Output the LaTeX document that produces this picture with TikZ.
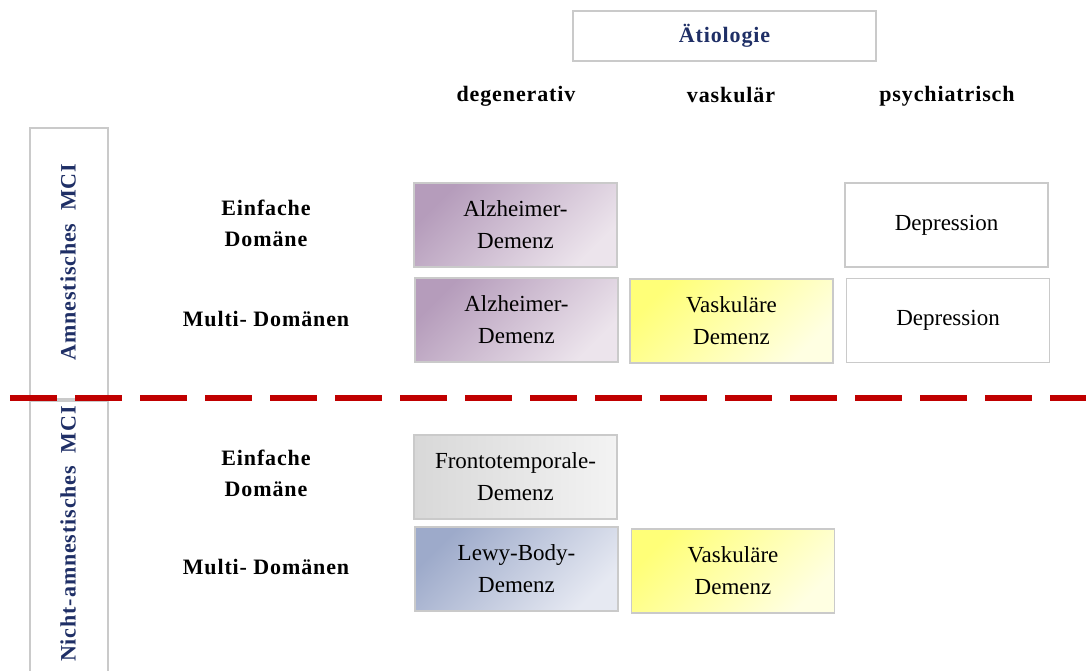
\documentclass[tikz,border=0pt]{standalone}
\usepackage{fontspec}
\setmainfont{Liberation Serif}
\definecolor{navy}{HTML}{1F2F66}
\definecolor{boxgray}{HTML}{CACACA}
\definecolor{dashred}{HTML}{C00000}
\definecolor{purpD}{HTML}{B59CBB}
\definecolor{purpL}{HTML}{ECE4EC}
\definecolor{yelD}{HTML}{FFFF78}
\definecolor{yelL}{HTML}{FFFFE2}
\definecolor{bluD}{HTML}{9DAACA}
\definecolor{bluL}{HTML}{E6E9F2}
\definecolor{gryD}{HTML}{D8D8D8}
\definecolor{gryL}{HTML}{F3F3F3}
\begin{document}
\begin{tikzpicture}[x=1pt,y=-1pt,
  cell/.style={draw=boxgray, line width=1.3pt, minimum width=203pt, minimum height=84pt,
    inner sep=0pt, align=center, font=\fontsize{23}{32}\selectfont},
  purp/.style={top color=purpD, bottom color=purpL, shading angle=45},
  yel/.style={top color=yelD, bottom color=yelL, shading angle=45},
  blu/.style={top color=bluD, bottom color=bluL, shading angle=45},
  gry/.style={left color=gryD, right color=gryL},
  hdr/.style={inner sep=0pt, align=center, font=\fontsize{22}{31}\selectfont\bfseries\addfontfeature{LetterSpace=4}},
  side/.style={draw=boxgray, line width=1.3pt, inner sep=0pt},
  sidetext/.style={inner sep=0pt, text=navy, rotate=90, font=\fontsize{22}{26}\selectfont\bfseries\addfontfeature{LetterSpace=4}}
]
\useasboundingbox (0,0) rectangle (1086,671);

% title
\node[draw=boxgray, line width=1.3pt, minimum width=303pt, minimum height=50pt, inner sep=0pt,
  text=navy, font=\fontsize{22}{26}\selectfont\bfseries\addfontfeature{LetterSpace=4}] (aet) at (724.5,36) {Ätiologie};

% column heads
\node[hdr] (deg) at (516,96) {degenerativ};
\node[hdr] (vas) at (731,95) {vaskulär};
\node[hdr] (psy) at (947,96) {psychiatrisch};

% row heads
\node[hdr] (r1) at (266,223) {Einfache\\Domäne};
\node[hdr] (r2) at (266,319) {Multi- Domänen};
\node[hdr] (r3) at (266,473) {Einfache\\Domäne};
\node[hdr] (r4) at (266,567) {Multi- Domänen};

% side boxes
\node[side, minimum width=78pt, minimum height=271pt] (amn) at (69,263.5) {};
\node[side, minimum width=78pt, minimum height=280pt] (nam) at (69,541) {};
\node[sidetext] (amnt) at (68,262) {Amnestisches\ \ MCI};
\node[sidetext] (namt) at (68,534) {Nicht-amnestisches\ \ MCI};

% cells
\node[cell, purp] (alz1) at (515.5,225) {Alzheimer-\\Demenz};
\node[cell, purp] (alz2) at (516.5,320) {Alzheimer-\\Demenz};
\node[cell, yel]  (vas1) at (731.5,321) {Vaskuläre\\Demenz};
\node[cell] (dep1) at (946.5,225) {Depression};
\node[cell] (dep2) at (948,320.5) {Depression};
\node[cell, gry]  (fro) at (515.5,477) {Frontotemporale-\\Demenz};
\node[cell, blu]  (lew) at (516.5,569) {Lewy-Body-\\Demenz};
\node[cell, yel]  (vas2) at (733,571) {Vaskuläre\\Demenz};

% dashed separator
\coordinate (sepL) at (10,397.5);
\coordinate (sepR) at (1090,397.5);
\draw[dashred, line width=6pt, dash pattern=on 47pt off 18pt] (sepL) -- (sepR);
\end{tikzpicture}
\end{document}
